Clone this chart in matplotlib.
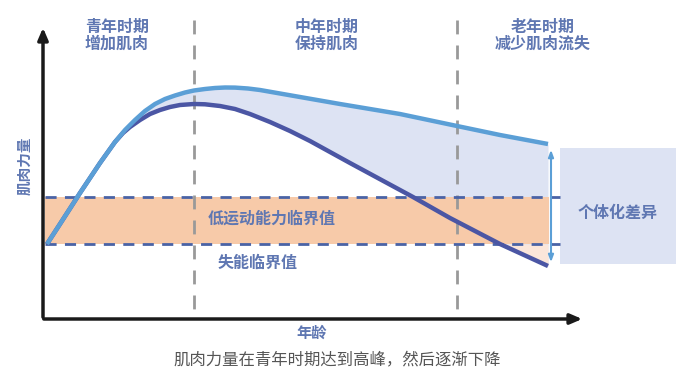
import matplotlib
matplotlib.use("Agg")
import matplotlib.pyplot as plt
import numpy as np

plt.rcParams['font.family'] = ['Noto Sans CJK SC', 'DejaVu Sans']

# Data (pixel-like coordinates: x = age position, y = screen height)
upper_x = [47, 60, 80, 100, 115, 125, 135, 145, 155, 165, 175, 185, 194, 205, 215, 225, 235, 248, 260, 280, 300, 340, 400, 457, 500, 548]
upper_y = [244, 224, 193, 163, 142, 130, 120, 111, 104, 99, 95.5, 92.5, 90.5, 89, 88, 87.5, 87.6, 88.5, 90, 93.5, 97, 104, 114, 126, 135, 144]
lower_x = [47, 60, 80, 100, 115, 123, 130, 140, 150, 160, 170, 180, 194, 205, 220, 235, 250, 270, 290, 310, 350, 413, 450, 500, 548]
lower_y = [244, 224, 193, 163, 142, 133, 127, 120, 114, 110, 107, 105, 104, 104.3, 106, 109, 114, 122, 131, 141, 163, 197, 218, 244, 266]

threshold_low_motor = 197
threshold_disability = 244
period_bounds = [194, 457]
period_labels = ["青年时期\n增加肌肉", "中年时期\n保持肌肉", "老年时期\n减少肌肉流失"]
period_label_x = [117, 327, 543]

fig = plt.figure(figsize=(6.92, 3.77), dpi=100)
ax = fig.add_axes([0, 0, 1, 1])
ax.set_xlim(0, 692)
ax.set_ylim(377, 0)
ax.axis('off')

text_c = '#5f77b2'
light_blue = '#5b9fd6'
dark_blue = '#4b56a4'
fill_c = '#dde3f3'
orange = '#f7caa9'
dash_c = '#4a63a6'

# fill between curves
xs = np.array(upper_x, float)
lx = np.array(lower_x, float)
common = np.union1d(xs, lx)
uy = np.interp(common, xs, upper_y)
ly = np.interp(common, lx, lower_y)
ax.fill_between(common, uy, ly, color=fill_c, zorder=1, lw=0)

# orange band
ax.fill_between([45, 549], threshold_low_motor, threshold_disability, color=orange, zorder=2, lw=0)
# light peach under band between lower curve and arrow
mask = common >= 500
ax.fill_between(common[mask], threshold_disability, ly[mask], color='#fbe6da', zorder=2, lw=0)

# individual difference box
ax.add_patch(plt.Rectangle((560, 148), 116, 116, color=fill_c, zorder=1, lw=0))

# dashed thresholds
for yv in [threshold_low_motor, threshold_disability]:
    ax.plot([45, 560], [yv, yv], color=dash_c, lw=2, ls=(0, (4, 3)), zorder=3)

# vertical period dividers
for xv in period_bounds:
    ax.plot([xv, xv], [20, 318], color='#999999', lw=2, ls=(0, (5, 4)), zorder=2.5)

# curves
ax.plot(lower_x, lower_y, color=dark_blue, lw=3.2, zorder=4, solid_capstyle='butt', solid_joinstyle='round')
ax.plot(upper_x, upper_y, color=light_blue, lw=3.2, zorder=5, solid_capstyle='butt', solid_joinstyle='round')

# axes arrows
ax.annotate('', xy=(43, 25), xytext=(43, 320),
            arrowprops=dict(arrowstyle='-|>,head_length=0.7,head_width=0.3', color='#1a1a1a', lw=2.5), zorder=6)
ax.annotate('', xy=(585, 319), xytext=(41, 319),
            arrowprops=dict(arrowstyle='-|>,head_length=0.7,head_width=0.3', color='#1a1a1a', lw=2.5), zorder=6)

# double arrow for individual difference
ax.annotate('', xy=(551, 147), xytext=(551, 265),
            arrowprops=dict(arrowstyle='<|-|>,head_length=0.4,head_width=0.15', color=light_blue, lw=1.5), zorder=6)

# texts
fs = 11.5
for lab, xv in zip(period_labels, period_label_x):
    ax.text(xv, 35, lab, ha='center', va='center', color=text_c, fontsize=fs,
            fontweight='bold', linespacing=1.05, style='italic', zorder=7)
ax.text(272, 219, "低运动能力临界值", ha='center', va='center', color=text_c, fontsize=fs, fontweight='bold', zorder=7)
ax.text(258, 263, "失能临界值", ha='center', va='center', color=text_c, fontsize=fs, fontweight='bold', zorder=7)
ax.text(618, 213, "个体化差异", ha='center', va='center', color=text_c, fontsize=fs, fontweight='bold', zorder=7)
ax.text(24, 166, "肌肉力量", ha='center', va='center', rotation=90, color=text_c, fontsize=10.5, fontweight='bold', zorder=7)
ax.text(312, 333, "年龄", ha='center', va='center', color=text_c, fontsize=11, fontweight='bold', zorder=7)
ax.text(337, 360, "肌肉力量在青年时期达到高峰，然后逐渐下降", ha='center', va='center', color='#555555', fontsize=11.8, zorder=7)

fig.savefig('out.png', dpi=100)
